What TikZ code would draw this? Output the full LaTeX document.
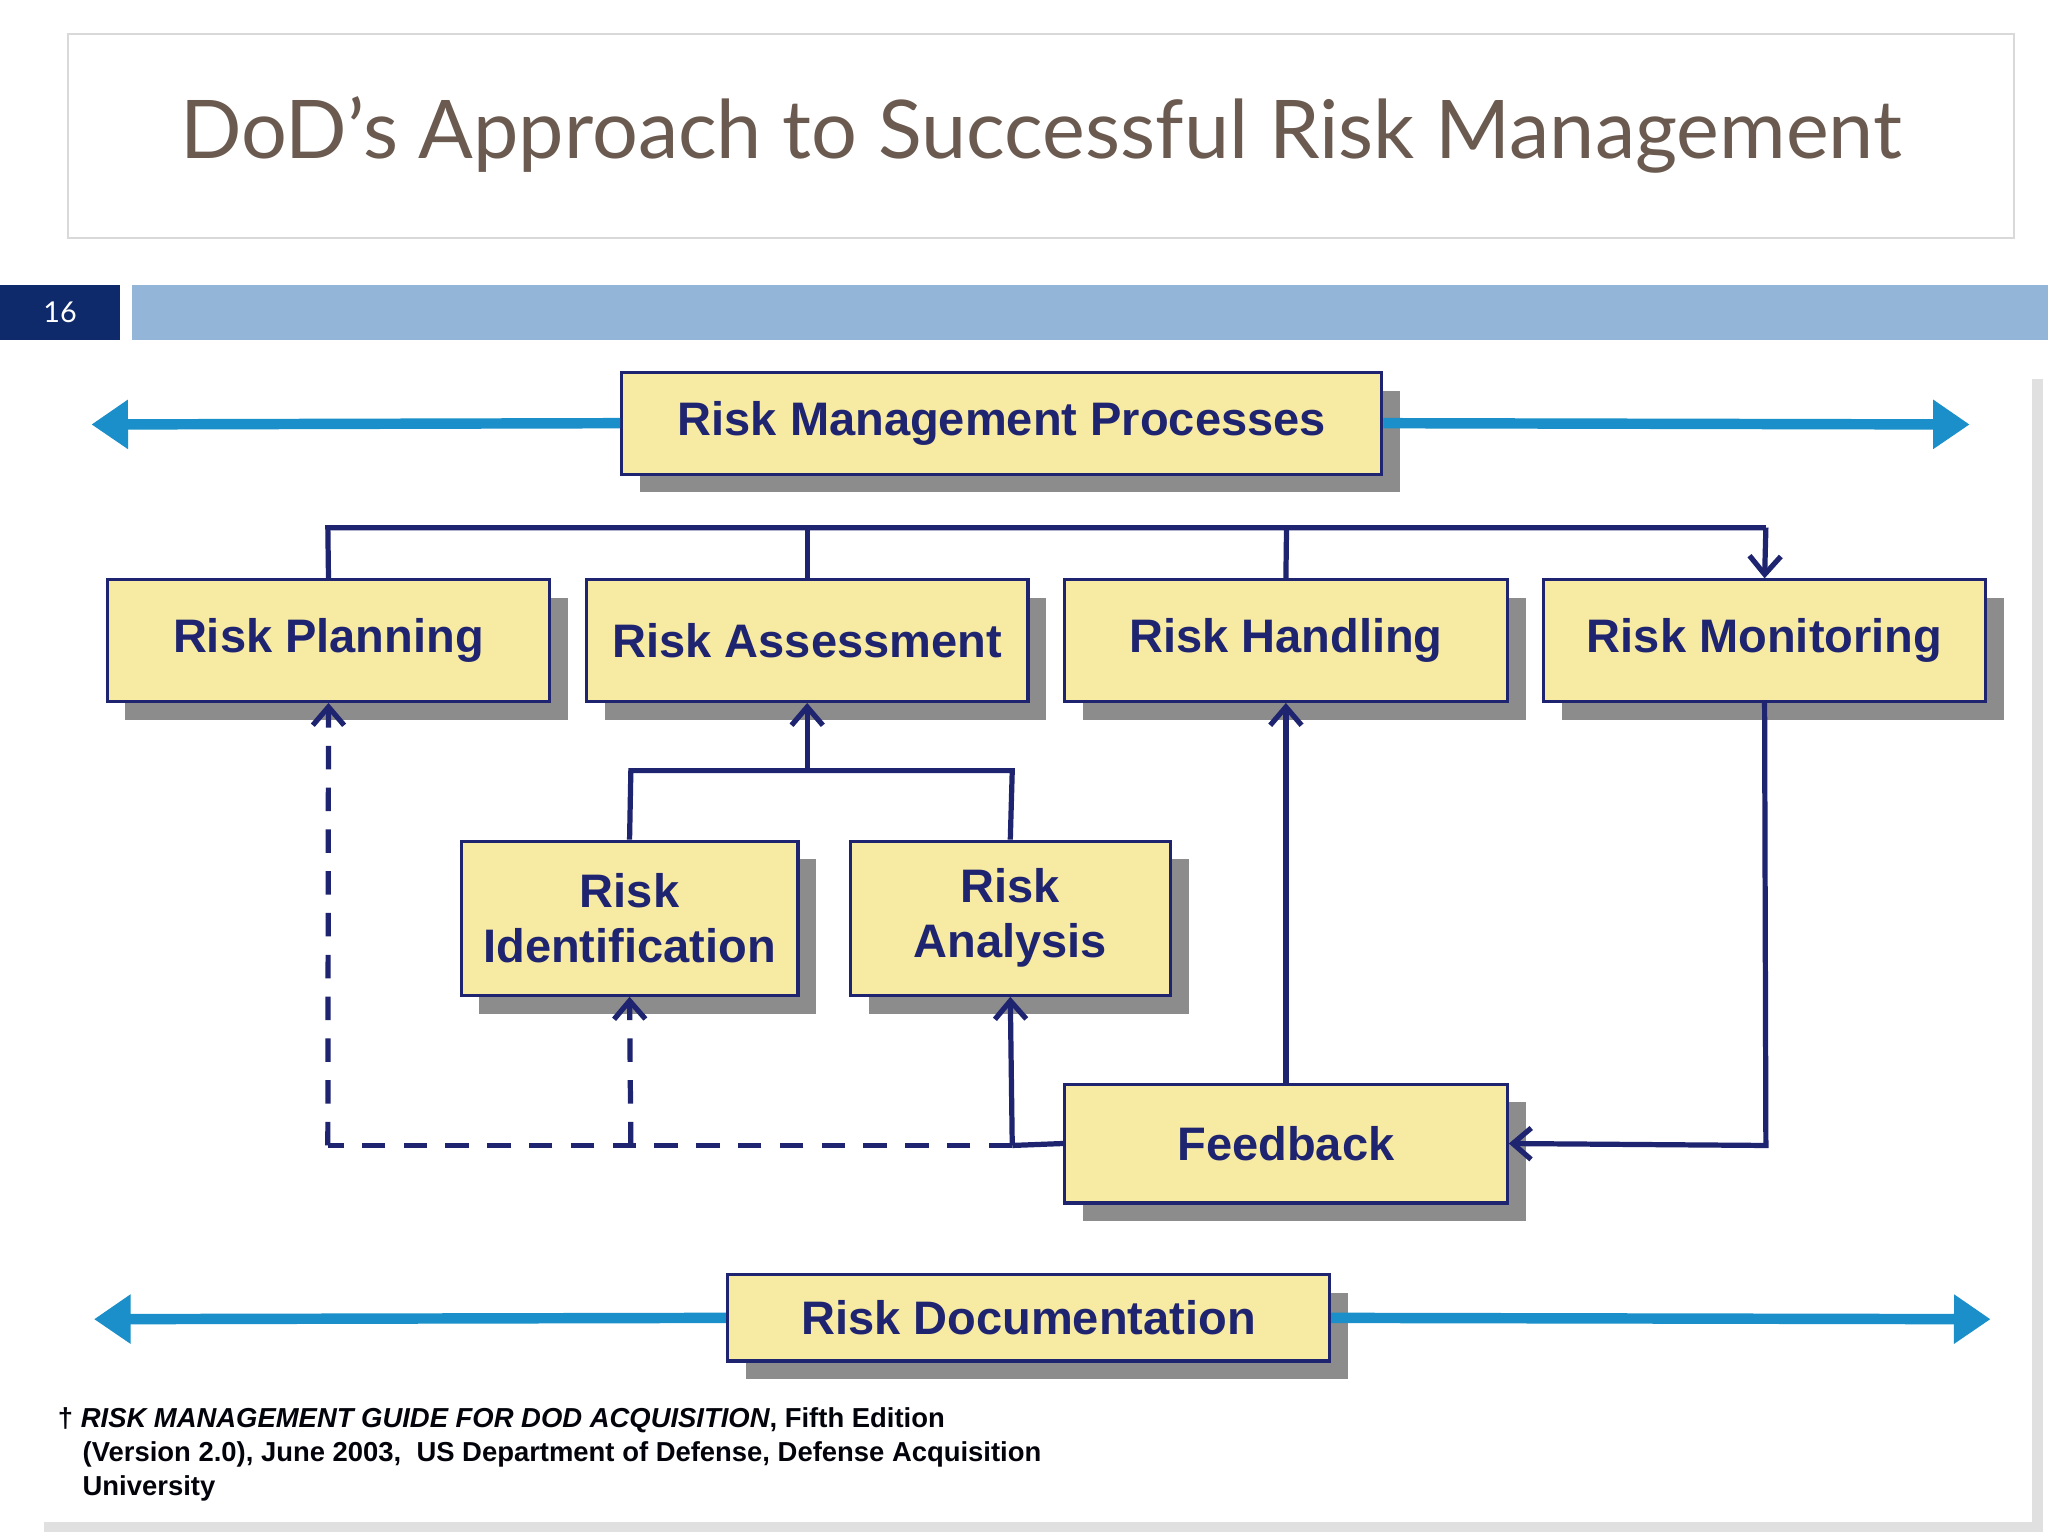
\documentclass[tikz,border=0pt]{standalone}
\usepackage{fontspec}
\setmainfont{Liberation Sans}
\newfontfamily\titlefont{Lato}
\usetikzlibrary{arrows.meta}
\definecolor{navy}{HTML}{1F2470}
\definecolor{boxfill}{HTML}{F7EAA2}
\definecolor{cyanarr}{HTML}{1A8FC9}
\definecolor{titlec}{HTML}{6B5A50}
\definecolor{barblue}{HTML}{93B5D7}
\definecolor{numblue}{HTML}{0F2A6B}
\tikzset{
  rbox/.style={draw=navy,line width=1.2pt,fill=boxfill,
     text=navy,font=\bfseries\fontsize{18}{21}\selectfont,align=center},
  shad/.style={fill=black!45},
  conn/.style={draw=navy,line width=2pt},
  tip/.style={-{Straight Barb[length=7pt,width=12pt,line width=2pt]}},
  dashline/.style={dash pattern=on 9pt off 7pt},
  carr/.style={draw=cyanarr,line width=4pt,-{Triangle[length=14pt,width=18pt]}}
}
\begin{document}
\begin{tikzpicture}[x=0.5pt,y=-0.5pt]
\useasboundingbox (0,0) rectangle (1568,1176);
% header
\draw[black!15,line width=0.8pt] (52,26) rectangle (1542,182);
\node[text=titlec,font=\titlefont\fontsize{31}{36}\selectfont] (title) at (797,103) {DoD’s Approach to Successful Risk Management};
\fill[numblue] (0,218) rectangle (92,260);
\node[text=white,font=\titlefont\fontsize{11}{13}\selectfont] (num) at (46,239) {16};
\fill[barblue] (101,218) rectangle (1568,260);
% panel
\fill[black!12] (34,290) rectangle (1564,1173);
\fill[white] (26,282) rectangle (1556,1165);
% shadows
\foreach \a/\b/\c/\d in {476/285/1058/363, 82/444/421/537, 449/444/787/537, 815/444/1154/537, 1182/444/1520/537, 353/644/611/762, 651/644/896/762, 815/830/1154/921, 557/976/1018/1042}
  \fill[shad] (\a+14,\b+14) rectangle (\c+14,\d+14);
% boxes
\node[rbox,minimum width=291pt,minimum height=39pt] (rmp) at (767,324) {Risk Management Processes};
\node[rbox,minimum width=169.5pt,minimum height=46.5pt] (plan) at (251.5,490.5) {Risk Planning};
\node[rbox,minimum width=169pt,minimum height=46.5pt] (assess) at (618,490.5) {Risk Assessment};
\node[rbox,minimum width=169.5pt,minimum height=46.5pt] (hand) at (984.5,490.5) {Risk Handling};
\node[rbox,minimum width=169pt,minimum height=46.5pt] (mon) at (1351,490.5) {Risk Monitoring};
\node[rbox,minimum width=129pt,minimum height=59pt,inner sep=0pt] (ident) at (482,703) {Risk\\Identification};
\node[rbox,minimum width=122.5pt,minimum height=59pt,inner sep=0pt] (anal) at (773.5,703) {Risk\\Analysis};
\node[rbox,minimum width=169.5pt,minimum height=45.5pt] (feed) at (984.5,875.5) {Feedback};
\node[rbox,minimum width=230.5pt,minimum height=33pt] (doc) at (787.5,1009) {Risk Documentation};
% cyan arrows
\coordinate (rl) at (70,325); \coordinate (rr) at (1508,325);
\coordinate (dl) at (72,1010); \coordinate (dr) at (1524,1010);
\draw[carr] (rmp.west) -- (rl);
\draw[carr] (rmp.east) -- (rr);
\draw[carr] (doc.west) -- (dl);
\draw[carr] (doc.east) -- (dr);
% top bus
\draw[conn] (plan.north) -- (251,404) -- (1352,404);
\draw[conn] (assess.north) -- (618,404);
\draw[conn] (hand.north) -- (985,404);
\draw[conn,tip] (1352,404) -- (mon.north);
% assessment bus
\draw[conn] (ident.north) -- (483,590) -- (775,590) -- (anal.north);
\draw[conn,tip] (618,590) -- (assess.south);
% feedback to handling
\draw[conn,tip] (feed.north) -- (hand.south);
% monitoring to feedback
\draw[conn,tip] (mon.south) -- (1352,877) -- (feed.east);
% feedback to analysis
\draw[conn] (feed.west) -- (775,877);
\draw[conn,tip] (775,877) -- (anal.south);
% dashed
\draw[conn,dashline] (775,877) -- (251,877);
\draw[conn,dashline,tip] (251,877) -- (plan.south);
\draw[conn,dashline,tip] (483,877) -- (ident.south);
% footnote
\node[anchor=north west,align=left,text=black!90!navy,font=\bfseries\fontsize{10.5}{13}\selectfont,inner sep=0pt] (foot) at (44,1077)
 {† \textit{RISK MANAGEMENT GUIDE FOR DOD ACQUISITION}, Fifth Edition\\
 \hspace*{0.9em}(Version 2.0), June 2003,\ \ US Department of Defense, Defense Acquisition\\
 \hspace*{0.9em}University};
\end{tikzpicture}
\end{document}
